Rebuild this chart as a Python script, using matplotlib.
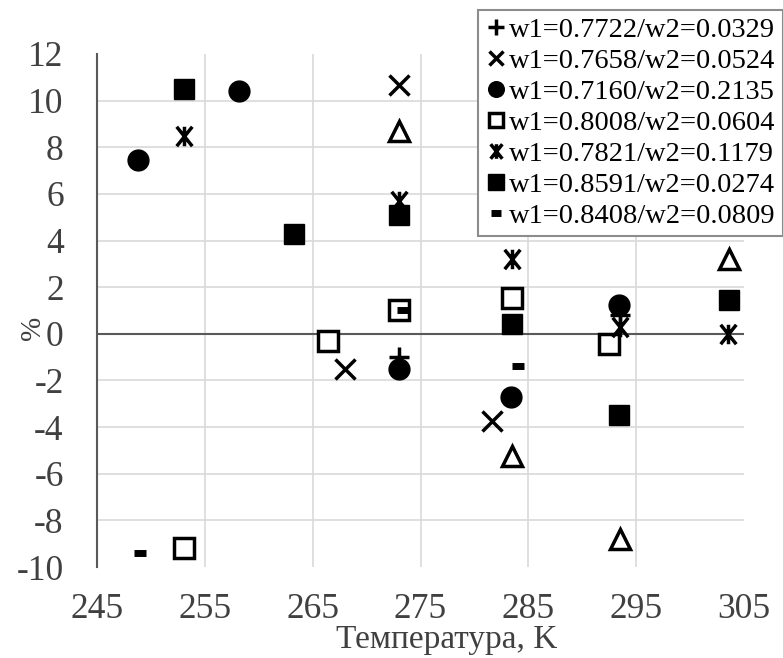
import matplotlib
matplotlib.use("Agg")
import matplotlib.pyplot as plt
from matplotlib.path import Path

plt.rcParams['font.family'] = ['Liberation Serif', 'DejaVu Serif']
plt.rcParams['axes.unicode_minus'] = False

# data: temperature (K) and deviation (%)
t_plus = [273.0, 283.5, 293.5]
d_plus = [-1.0, 1.55, 0.8]

t_x = [268.0, 273.0, 281.6]
d_x = [-1.5, 10.65, -3.75]

t_circ = [248.8, 258.2, 273.0, 283.4, 293.4]
d_circ = [7.45, 10.4, -1.5, -2.7, 1.25]

t_osq = [253.1, 266.4, 273.0, 283.5, 292.5]
d_osq = [-9.2, -0.3, 1.0, 1.55, -0.45]

t_star = [253.1, 273.0, 283.5, 293.5, 303.5]
d_star = [8.5, 5.7, 3.2, 0.3, 0.0]

t_fsq = [253.1, 263.3, 273.0, 283.5, 293.4, 303.6]
d_fsq = [10.5, 4.3, 5.1, 0.4, -3.5, 1.45]

t_dash = [249.0, 273.4, 284.0]
d_dash = [-9.4, 1.0, -1.4]

t_tri = [273.0, 283.5, 293.5, 303.6]
d_tri = [8.7, -5.25, -8.8, 3.2]

labels = ["w1=0.7722/w2=0.0329", "w1=0.7658/w2=0.0524", "w1=0.7160/w2=0.2135",
          "w1=0.8008/w2=0.0604", "w1=0.7821/w2=0.1179", "w1=0.8591/w2=0.0274",
          "w1=0.8408/w2=0.0809"]

# excel-like star marker: X with a vertical bar
star = Path([(-0.8, -1), (0.8, 1), (-0.8, 1), (0.8, -1), (0, -1), (0, 1)],
            [Path.MOVETO, Path.LINETO, Path.MOVETO, Path.LINETO, Path.MOVETO, Path.LINETO])

fig = plt.figure(figsize=(7.83, 6.58), dpi=100)
ax = fig.add_axes([97/783, 1-567/658, (744-97)/783, (567-54)/658])

k = dict(linestyle='none', color='black')
ax.plot(t_plus, d_plus, marker='+', ms=15, mew=2.5, label=labels[0], **k)
ax.plot(t_x, d_x, marker='x', ms=14, mew=2.5, label=labels[1], **k)
ax.plot(t_circ, d_circ, marker='o', ms=15, label=labels[2], **k)
ax.plot(t_osq, d_osq, marker='s', ms=14, mew=2.5, mfc='white', label=labels[3], **k)
ax.plot(t_star, d_star, marker=star, ms=14, mew=2.5, label=labels[4], **k)
ax.plot(t_fsq, d_fsq, marker='s', ms=15, label=labels[5], **k)
ax.plot(t_dash, d_dash, marker='_', ms=9, mew=5, label=labels[6], **k)
ax.plot(t_tri, d_tri, marker='^', ms=14, mew=2.5, mfc='white', label='_nolegend_', **k)

ax.set_xlim(245, 305)
ax.set_ylim(-10, 12)
ax.set_xticks(range(245, 306, 10))
ax.set_yticks(range(-10, 13, 2))
ax.grid(True, color='#d9d9d9', lw=1.2, zorder=0)
ax.set_axisbelow(True)
xg = ax.get_xgridlines()
yg = ax.get_ygridlines()
for g in (xg[0], xg[-1], yg[0], yg[-1]):
    g.set_visible(False)

for s in ['top', 'right', 'bottom']:
    ax.spines[s].set_visible(False)
ax.spines['left'].set_color('#595959')
ax.spines['left'].set_linewidth(1.5)
ax.axhline(0, color='#595959', lw=1.5, zorder=1)

ax.tick_params(axis='x', length=0, pad=19, labelsize=25.5, labelcolor='#404040')
ax.tick_params(axis='y', length=0, pad=24, labelsize=25.5, labelcolor='#404040')

ax.set_xlabel("Температура, K", fontsize=24, color='#404040')
ax.xaxis.set_label_coords(0.541, -0.112)
fig.text(33/783, 1-328/658, "%", rotation=90, fontsize=21, color='#404040',
         ha='center', va='center')

leg = ax.legend(loc='upper right', bbox_to_anchor=(1.0, 1-10/658),
                bbox_transform=fig.transFigure, fontsize=20.5, markerscale=0.75,
                handlelength=0.75, handletextpad=0.1, labelspacing=0.18,
                borderpad=0.25, borderaxespad=0, fancybox=False, framealpha=1,
                edgecolor='#8c8c8c')
leg.get_frame().set_linewidth(1.5)

fig.savefig("out.png", dpi=100)
